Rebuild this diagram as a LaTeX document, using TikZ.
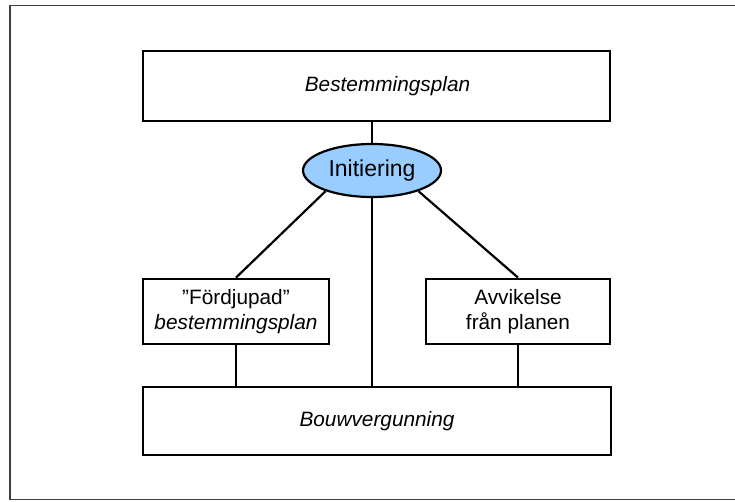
\documentclass[tikz,border=0pt]{standalone}
\usepackage{fontspec}
\setmainfont{Liberation Sans}
\usetikzlibrary{shapes.geometric}
\definecolor{initblue}{RGB}{153,204,255}
\begin{document}
\begin{tikzpicture}[x=1pt, y=1pt,
    planbox/.style={draw, line width=2.8pt, inner sep=0pt, align=center,
      font=\fontsize{20.8}{25}\selectfont},
    initlbl/.style={ellipse, draw, line width=2.2pt, fill=initblue, inner sep=0pt,
      minimum width=138, minimum height=53, font=\fontsize{23}{26}\selectfont},
    link/.style={line width=2.2pt}
  ]
  \useasboundingbox (0,0) rectangle (735,501);
  % frame
  \draw[black!75, line width=1.6pt] (9.8,495.5) rectangle (745,1.5);
  % boxes
  \node[planbox, minimum width=467, minimum height=70] (plan) at (376.5,415)
    {\itshape\hspace*{22pt}Bestemmingsplan};
  \node[initlbl] (init) at (372,330.5) {Initiering};
  \node[planbox, minimum width=186, minimum height=65] (fbp) at (236,189.5)
    {”Fördjupad”\\\itshape bestemmingsplan};
  \node[planbox, minimum width=184, minimum height=65] (avv) at (518,189.5)
    {Avvikelse\\från planen};
  \node[planbox, minimum width=468, minimum height=68] (bv) at (377,80)
    {\itshape Bouwvergunning};
  % connectors
  \draw[link] (init.north) -- (init.north |- plan.south);
  \draw[link] (init.south) -- (init.south |- bv.north);
  \draw[link] (init.204) -- (fbp.north);
  \draw[link] (init.336) -- (avv.north);
  \draw[link] (fbp.south) -- (fbp.south |- bv.north);
  \draw[link] (avv.south) -- (avv.south |- bv.north);
\end{tikzpicture}
\end{document}
